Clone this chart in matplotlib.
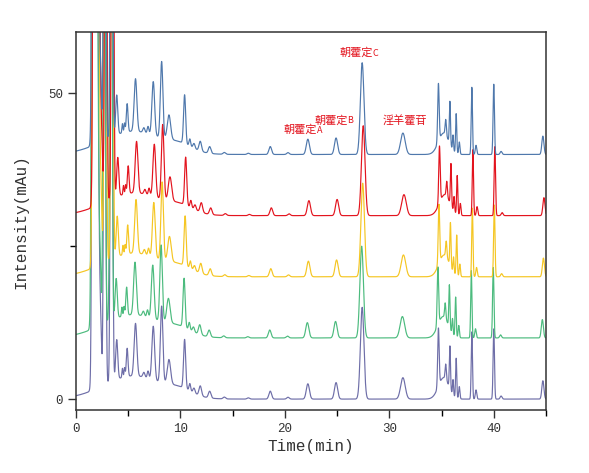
import numpy as np
import matplotlib
matplotlib.use("Agg")
import matplotlib.pyplot as plt
from matplotlib.ticker import MultipleLocator

# peak table (time in min, height in mAu, sigma in min)
peakTimes = [1.6, 1.9, 2.35, 2.75, 3.4,
             3.9, 4.45, 4.65, 4.9, 5.7, 6.5, 6.9, 7.4, 8.2, 8.9, 10.4, 10.9, 11.3, 11.9, 12.8,
             14.2, 16.5, 18.6, 20.3, 22.2, 24.9, 27.4, 31.3,
             34.7, 35.2, 35.4, 35.8, 36.1, 36.4, 36.7, 37.9, 38.3, 40.0, 40.7, 44.7,
             5.5, 10.0]
peakHeights = [80, 150, 9, 100, 120,
               6.5, 1.5, 1.5, 4.6, 8.6, 0.8, 1.2, 8.8, 12.5, 4.0, 8.0, 1.2, 0.8, 1.6, 1.1,
               0.3, 0.2, 1.3, 0.3, 2.5, 2.7, 15, 3.5,
               9.5, 3.5, 2.5, 7, 2.5, 6.5, 2, 11, 1.5, 11.5, 0.5, 3.0,
               3.8, 1.0]
peakWidths = [0.08, 0.17, 0.1, 0.09, 0.09,
              0.1, 0.05, 0.05, 0.08, 0.13, 0.1, 0.08, 0.13, 0.12, 0.16, 0.1, 0.08, 0.1, 0.12, 0.12,
              0.12, 0.12, 0.13, 0.12, 0.15, 0.15, 0.17, 0.22,
              0.07, 0.5, 0.06, 0.055, 0.05, 0.055, 0.06, 0.06, 0.07, 0.065, 0.09, 0.1,
              2.8, 1.2]

sampleOffsets = [0, 10, 20, 30, 40]
sampleGains = [1.0, 1.0, 1.02, 0.98, 1.0]
sampleShifts = [0.0, -0.05, 0.05, 0.1, 0.0]
sampleColors = ['#6e6ea8', '#4cbb7e', '#f5c623', '#e3141e', '#4f78ac']

# (name, suffix letter, x, y)
annotations = [('朝藿定', 'A', 21.5, 44.0), ('朝藿定', 'B', 24.4, 45.6),
               ('朝藿定', 'C', 26.8, 56.6), ('淫羊藿苷', '', 31.5, 45.5)]

time = np.linspace(0, 45, 6000)

fig = plt.figure(figsize=(5.89, 4.73), dpi=100)
ax = fig.add_axes([0.129, 0.133, 0.798, 0.799])

for offset, gain, shift, color in zip(sampleOffsets, sampleGains, sampleShifts, sampleColors):
    signal = np.zeros_like(time)
    for t0, h, w in zip(peakTimes, peakHeights, peakWidths):
        signal += h * gain * np.exp(-(time - t0 - shift) ** 2 / (2 * w ** 2))
    ax.plot(time, signal + offset, color=color, linewidth=0.85)

cjk = ['Noto Sans CJK SC', 'DejaVu Sans']
for name, suffix, t0, y in annotations:
    txt = ax.text(t0, y, name, color='#e3141e', fontsize=8, ha='center', va='center', family=cjk)
    if suffix:
        ax.annotate(suffix, xy=(1, 0.0), xycoords=txt, ha='left', va='bottom',
                    color='#e3141e', fontsize=6.5, family=cjk)

ax.set_xlim(0, 45)
ax.set_ylim(-1.8, 60)
ax.xaxis.set_major_locator(MultipleLocator(10))
ax.xaxis.set_minor_locator(MultipleLocator(5))
ax.yaxis.set_major_locator(MultipleLocator(50))
ax.yaxis.set_minor_locator(MultipleLocator(25))
ax.tick_params(which='major', direction='out', length=6, width=1, labelsize=9, colors='#333333')
ax.tick_params(which='minor', direction='out', length=4, width=1)
for spine in ax.spines.values():
    spine.set_linewidth(1.1)
    spine.set_color('#333333')

labelFont = {'family': 'Liberation Mono', 'size': 11.5, 'color': '#333333'}
ax.set_xlabel('Time(min)', fontdict=labelFont, labelpad=3)
ax.set_ylabel('Intensity(mAu)', fontdict=labelFont, labelpad=14)
for lbl in ax.get_xticklabels() + ax.get_yticklabels():
    lbl.set_family('Liberation Mono')

fig.savefig('out.png', dpi=100)
